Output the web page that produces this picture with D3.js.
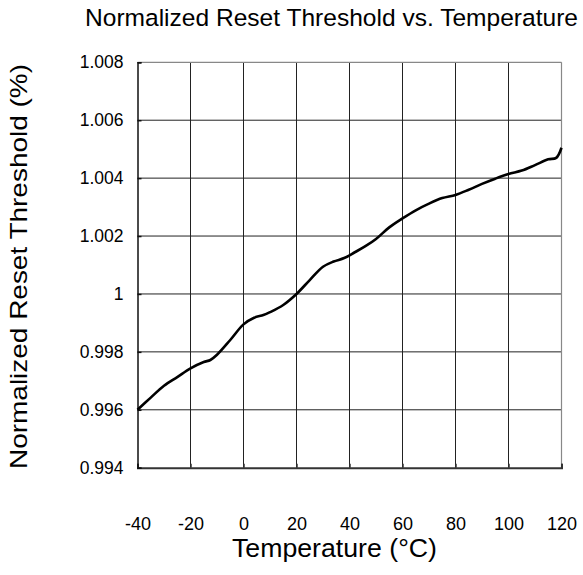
<!DOCTYPE html>
<html>
<head>
<meta charset="utf-8">
<script src="https://cdn.jsdelivr.net/npm/d3@7"></script>
<style>
  html, body { margin: 0; padding: 0; background: #fff; }
  svg { display: block; font-family: "Liberation Sans", Arial, sans-serif; }
</style>
</head>
<body>
<svg id="chart" width="583" height="575"></svg>
<script>
const temps = [-40, -35, -30, -25, -20, -15, -12.5, -10, -5, 0, 4, 7.5, 10, 15, 20, 25, 30, 34, 38, 42, 46, 50, 55, 60, 65, 70, 75, 80, 85, 90, 95, 100, 105, 110, 115, 118, 120];
const thresholds = [0.996, 0.99642, 0.99683, 0.99713, 0.99743, 0.99765, 0.99772, 0.99790, 0.99841, 0.99895, 0.99918, 0.99927, 0.99937, 0.99962, 1.0, 1.00048, 1.00094, 1.00112, 1.00124, 1.00144, 1.00165, 1.00190, 1.00230, 1.00261, 1.00289, 1.00312, 1.00331, 1.00342, 1.00360, 1.00380, 1.00398, 1.00414, 1.00426, 1.00445, 1.00465, 1.00470, 1.00505];
const xTicks = [-40, -20, 0, 20, 40, 60, 80, 100, 120];
const xTickLabels = ["-40", "-20", "0", "20", "40", "60", "80", "100", "120"];
const yTicks = [0.994, 0.996, 0.998, 1.0, 1.002, 1.004, 1.006, 1.008];
const yTickLabels = ["0.994", "0.996", "0.998", "1", "1.002", "1.004", "1.006", "1.008"];

const svg = d3.select("#chart");
const L = 137.5, R = 561.5, T = 62.3, B = 467.7;
const x = d3.scaleLinear().domain([-40, 120]).range([L, R]);
const y = d3.scaleLinear().domain([0.994, 1.008]).range([B, T]);

// grid
svg.append("g").selectAll("line").data(xTicks.slice(1, -1)).join("line")
  .attr("x1", d => x(d)).attr("x2", d => x(d)).attr("y1", T).attr("y2", B)
  .attr("stroke", "#222").attr("stroke-width", 1);
svg.append("g").selectAll("line").data(yTicks.slice(1, -1)).join("line")
  .attr("x1", L).attr("x2", R).attr("y1", d => y(d)).attr("y2", d => y(d))
  .attr("stroke", "#222").attr("stroke-width", 1);
// border
svg.append("line").attr("x1", L).attr("x2", R).attr("y1", T).attr("y2", T).attr("stroke", "#888").attr("stroke-width", 1.2);
svg.append("line").attr("x1", R).attr("x2", R).attr("y1", T).attr("y2", B).attr("stroke", "#888").attr("stroke-width", 1.2);

// axes
const xAxis = d3.axisBottom(x).tickValues(xTicks).tickSize(-4).tickPadding(50).tickFormat((d, i) => xTickLabels[i]);
const gx = svg.append("g").attr("transform", `translate(0,${B})`).call(xAxis);
gx.select(".domain").attr("stroke", "#333").attr("stroke-width", 2);
gx.selectAll(".tick line").attr("stroke", "#333").attr("stroke-width", 1.5);
gx.selectAll("text").attr("font-size", 18).attr("fill", "#000").attr("font-family", "Liberation Sans, Arial, sans-serif");

const yAxis = d3.axisLeft(y).tickValues(yTicks).tickSize(-4).tickPadding(14).tickFormat((d, i) => yTickLabels[i]);
const gy = svg.append("g").attr("transform", `translate(${L},0)`).call(yAxis);
gy.select(".domain").attr("stroke", "#111").attr("stroke-width", 1.5);
gy.selectAll(".tick line").attr("stroke", "#111").attr("stroke-width", 1.5);
gy.selectAll("text").attr("font-size", 17.5).attr("fill", "#000").attr("font-family", "Liberation Sans, Arial, sans-serif");

// curve
const line = d3.line().x((d, i) => x(temps[i])).y(d => y(d)).curve(d3.curveCatmullRom.alpha(0.5));
svg.append("path").datum(thresholds).attr("d", line)
  .attr("fill", "none").attr("stroke", "#000").attr("stroke-width", 2.6).attr("stroke-linejoin", "round");

// titles
svg.append("text").attr("x", 331.5).attr("y", 26).attr("text-anchor", "middle")
  .attr("font-size", 24.5).attr("textLength", 493).attr("lengthAdjust", "spacingAndGlyphs")
  .attr("fill", "#000").text("Normalized Reset Threshold vs. Temperature");
svg.append("text").attr("x", 334.5).attr("y", 557).attr("text-anchor", "middle")
  .attr("font-size", 25).attr("textLength", 205).attr("lengthAdjust", "spacingAndGlyphs")
  .attr("fill", "#000").text("Temperature (°C)");
svg.append("text").attr("transform", "translate(27,266.5) rotate(-90)").attr("text-anchor", "middle")
  .attr("font-size", 24).attr("textLength", 405).attr("lengthAdjust", "spacingAndGlyphs")
  .attr("fill", "#000").text("Normalized Reset Threshold (%)");
</script>
</body>
</html>
